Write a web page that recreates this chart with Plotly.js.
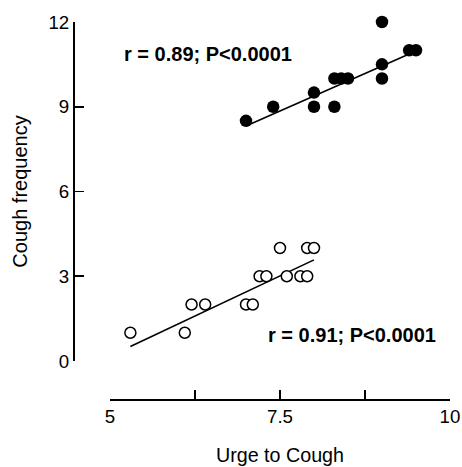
<!DOCTYPE html>
<html>
<head>
<meta charset="utf-8">
<script src="https://cdn.plot.ly/plotly-3.0.1.min.js"></script>
<style>html,body{margin:0;padding:0;background:#fff;}#chart{width:462px;height:467px;}</style>
</head>
<body>
<div id="chart"></div>
<script>
// Filled circles (upper group)
var filledX = [7.0, 7.4, 8.0, 8.0, 8.3, 8.3, 8.4, 8.5, 9.0, 9.0, 9.0, 9.4, 9.5];
var filledY = [8.5, 9.0, 9.5, 9.0, 9.0, 10.0, 10.0, 10.0, 12.0, 10.5, 10.0, 11.0, 11.0];
var filledFitX = [7.0, 9.4];
var filledFitY = [8.32, 10.87];

// Open circles (lower group)
var openX = [5.3, 6.1, 6.2, 6.4, 7.0, 7.1, 7.2, 7.3, 7.5, 7.6, 7.8, 7.9, 7.9, 8.0];
var openY = [1, 1, 2, 2, 2, 2, 3, 3, 4, 3, 3, 3, 4, 4];
var openFitX = [5.3, 8.0];
var openFitY = [0.51, 3.58];

var xTickVals = [5, 6.25, 7.5, 8.75, 10];
var xTickText = ['5', '', '7.5', '', '10'];
var yTickVals = [0, 3, 6, 9, 12];

var annoTop = 'r = 0.89; P<0.0001';
var annoBottom = 'r = 0.91; P<0.0001';

var FONT = 'Liberation Sans, Arial, sans-serif';

var traces = [
  {x: filledFitX, y: filledFitY, mode: 'lines', line: {color: '#000', width: 1.6}, hoverinfo: 'skip', cliponaxis: false},
  {x: openFitX, y: openFitY, mode: 'lines', line: {color: '#000', width: 1.6}, hoverinfo: 'skip', cliponaxis: false},
  {x: filledX, y: filledY, mode: 'markers', cliponaxis: false,
   marker: {symbol: 'circle', size: 12.5, color: '#000', line: {color: '#000', width: 0}}},
  {x: openX, y: openY, mode: 'markers', cliponaxis: false,
   marker: {symbol: 'circle', size: 11, color: '#fff', line: {color: '#000', width: 1.5}}}
];

var layout = {
  width: 462, height: 467,
  margin: {l: 73, r: 12, t: 22, b: 68, pad: 0},
  paper_bgcolor: '#fff', plot_bgcolor: 'rgba(0,0,0,0)',
  showlegend: false,
  font: {family: FONT, color: '#000', size: 18.7},
  xaxis: {
    range: [5, 10], domain: [0.0981, 1], anchor: 'free', position: 0,
    showline: true, linecolor: '#000', linewidth: 1.6,
    showgrid: false, zeroline: false,
    ticks: 'inside', ticklen: 9, tickwidth: 1.6, tickcolor: '#000',
    tickmode: 'array', tickvals: xTickVals, ticktext: xTickText,
    tickfont: {size: 18.7},
    title: {text: 'Urge to Cough', font: {size: 19.7}, standoff: 22}
  },
  yaxis: {
    range: [0, 12], domain: [0.1008, 1], anchor: 'free', position: 0,
    showline: true, linecolor: '#000', linewidth: 1.6,
    showgrid: false, zeroline: false,
    ticks: 'inside', ticklen: 9, tickwidth: 1.6, tickcolor: '#000',
    tickmode: 'array', tickvals: yTickVals,
    tickfont: {size: 18.7},
    title: {text: 'Cough frequency', font: {size: 20}, standoff: 14}
  },
  annotations: [
    {x: 5.18, y: 10.85, xref: 'x', yref: 'y', text: '<b>' + annoTop + '</b>', showarrow: false,
     font: {size: 20}, xanchor: 'left', yanchor: 'middle'},
    {x: 7.29, y: 0.92, xref: 'x', yref: 'y', text: '<b>' + annoBottom + '</b>', showarrow: false,
     font: {size: 20}, xanchor: 'left', yanchor: 'middle'}
  ]
};

Plotly.newPlot('chart', traces, layout, {displayModeBar: false, staticPlot: true});
</script>
</body>
</html>
